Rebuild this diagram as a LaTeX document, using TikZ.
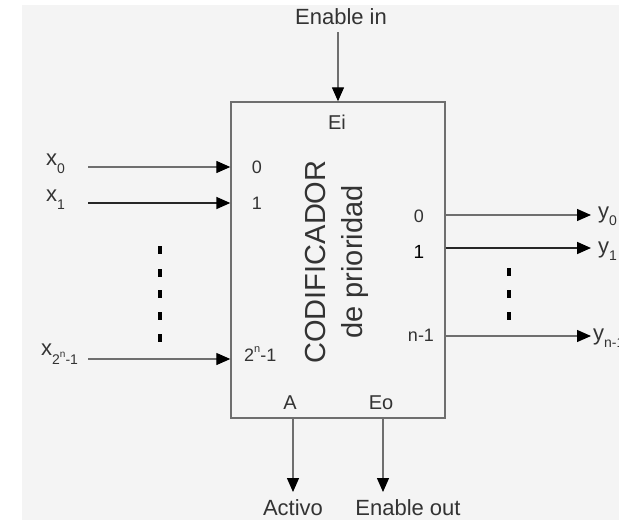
\documentclass[tikz,border=0pt]{standalone}
\usepackage{fontspec}
\setmainfont{Liberation Sans}
\usetikzlibrary{arrows.meta}
\definecolor{bgc}{HTML}{F4F4F4}
\definecolor{txt}{HTML}{333333}
\definecolor{ln}{HTML}{6E6E6E}
\newcommand{\fs}[1]{\fontsize{#1}{#1}\selectfont}
\tikzset{
  x=1pt, y=-1pt,
  arr/.style={draw=ln, line width=1.3pt, -{Triangle[length=14pt,width=12pt,fill=black,color=black]}},
  darkarr/.style={arr, draw=black!85, line width=1.7pt},
  lbl/.style={text=txt, inner sep=0pt, font=\fs{22}},
  port/.style={text=txt, inner sep=0pt, font=\fs{18}},
  bigport/.style={port, font=\fs{20}},
  dotmark/.style={fill=black, draw=none},
}
\begin{document}
\begin{tikzpicture}
\useasboundingbox (0,0) rectangle (619,520);
\fill[bgc] (22,5) rectangle (619,520);
% box
\node[draw=ln, line width=1.4pt, minimum width=214pt, minimum height=316pt, inner sep=0pt] (box) at (338,260) {};
% top
\node[lbl] (ein) at (341,17) {Enable in};
\coordinate (eins) at (338,32);
\draw[arr] (eins) -- (eins |- box.north);
\node[bigport] (ei) at (337,122) {Ei};
% center text
\node[text=txt, rotate=90, inner sep=0pt, font=\fs{29}] (cod) at (316,262) {CODIFICADOR};
\node[text=txt, rotate=90, inner sep=0pt, font=\fs{29}] (dep) at (355,262) {de prioridad};
% inputs
\node[lbl, anchor=west] (x0) at (46,164) {x\raisebox{-0.35em}{\fs{14}0}};
\node[lbl, anchor=west] (x1) at (46,200) {x\raisebox{-0.35em}{\fs{14}1}};
\node[lbl, anchor=west] (xn) at (41,354) {x\raisebox{-0.4em}{\fs{14}2\raisebox{0.45em}{\fs{10}n}-1}};
\coordinate (x0s) at (88,167);
\coordinate (x1s) at (88,203);
\coordinate (xns) at (88,359);
\draw[arr] (x0s) -- (x0s -| box.west);
\draw[darkarr] (x1s) -- (x1s -| box.west);
\draw[arr] (xns) -- (xns -| box.west);
\node[port] (p0) at (257,167) {0};
\node[port] (p1) at (257,203) {1};
\node[port, anchor=west] (pn) at (244,354) {2\raisebox{0.45em}{\fs{11}n}-1};
% left dots
\foreach \yy in {250,273,294,316,338} \fill[dotmark] (158,\yy-4) rectangle (162,\yy+4);
% outputs
\coordinate (y0e) at (591,215);
\coordinate (y1e) at (591,248);
\coordinate (yne) at (591,336);
\draw[arr] (y0e -| box.east) -- (y0e);
\draw[darkarr] (y1e -| box.east) -- (y1e);
\draw[arr] (yne -| box.east) -- (yne);
\node[port] (q0) at (419,216) {0};
\node[port, text=black, font=\fs{19}] (q1) at (419,252) {1};
\node[port] (qn) at (421,335) {n-1};
\node[lbl, anchor=west] (y0) at (598,216) {y\raisebox{-0.3em}{\fs{14}0}};
\node[lbl, anchor=west] (y1) at (598,251) {y\raisebox{-0.3em}{\fs{14}1}};
\node[lbl, anchor=west] (yn) at (593,338) {y\raisebox{-0.3em}{\fs{14}n-1}};
% right dots
\foreach \yy in {272,294,316} \fill[dotmark] (507,\yy-4) rectangle (511,\yy+4);
% bottom
\node[bigport] (a) at (290,403) {A};
\node[bigport] (eo) at (381,403) {Eo};
\coordinate (ae) at (293,492);
\coordinate (eoe) at (383,492);
\draw[arr] (ae |- box.south) -- (ae);
\draw[arr] (eoe |- box.south) -- (eoe);
\node[lbl] (act) at (293,508) {Activo};
\node[lbl] (eout) at (408,508) {Enable out};
\end{tikzpicture}
\end{document}
